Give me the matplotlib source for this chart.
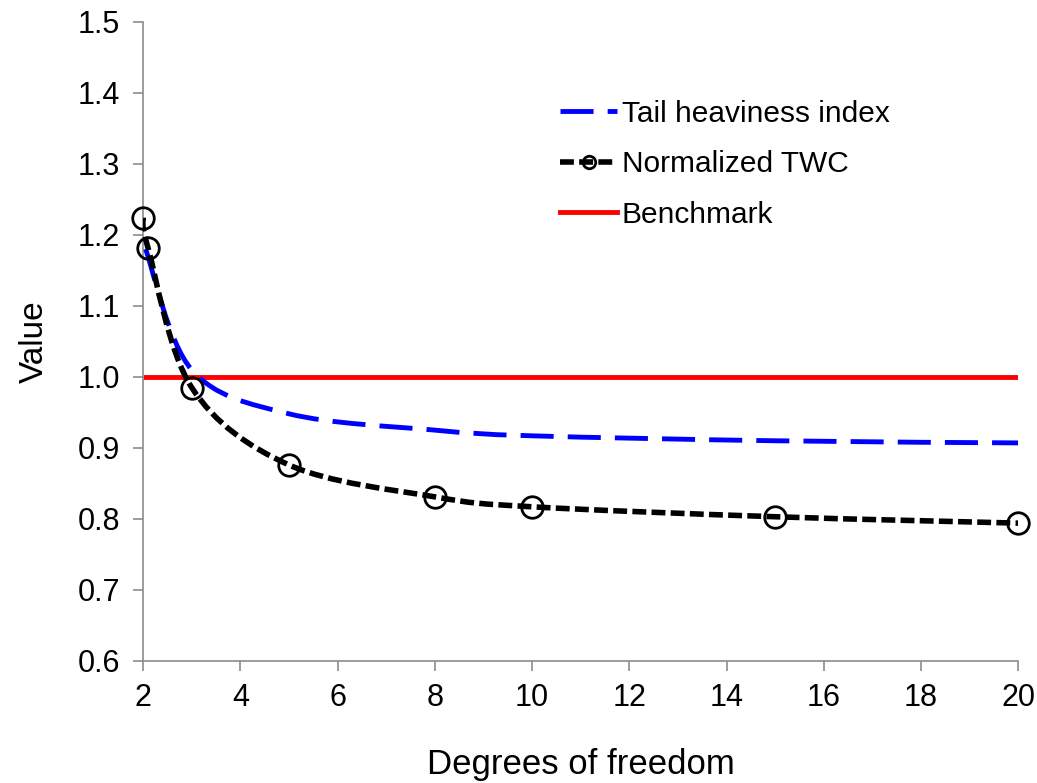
import matplotlib
matplotlib.use("Agg")
import matplotlib.pyplot as plt
from matplotlib.path import Path
from matplotlib.patches import PathPatch
from matplotlib.lines import Line2D
import numpy as np

plt.rcParams['font.family'] = ['Liberation Sans', 'DejaVu Sans']

# Data
twc_x = [2, 2.1, 3, 5, 8, 10, 15, 20]
twc_y = [1.224, 1.182, 0.985, 0.876, 0.831, 0.817, 0.803, 0.794]
thi_x = [2.05, 3, 5, 8, 10, 15, 20]
thi_y = [1.18, 1.01, 0.948, 0.925, 0.917, 0.910, 0.907]
bench_x = [2, 20]
bench_y = [1.0, 1.0]
x_ticks = [2, 4, 6, 8, 10, 12, 14, 16, 18, 20]
y_ticks = [0.6, 0.7, 0.8, 0.9, 1.0, 1.1, 1.2, 1.3, 1.4, 1.5]


def smooth_path(xs, ys):
    pts = np.column_stack([xs, ys]).astype(float)
    n = len(pts)
    verts = [pts[0]]
    codes = [Path.MOVETO]
    for i in range(n - 1):
        p0 = pts[i - 1] if i > 0 else pts[i]
        p1 = pts[i]
        p2 = pts[i + 1]
        p3 = pts[i + 2] if i + 2 < n else pts[i + 1]
        c1 = p1 + (p2 - p0) / 6.0
        c2 = p2 - (p3 - p1) / 6.0
        verts += [c1, c2, p2]
        codes += [Path.CURVE4] * 3
    return Path(verts, codes)


fig = plt.figure(figsize=(10.37, 7.83), dpi=100)
ax = fig.add_axes([0.138, 0.156, 0.844, 0.816])

gray = '#8c8c8c'
blue_lw = 3.5
black_lw = 4.0
blue_ls = (0, (6.8, 2.9))
black_ls = (0, (2.5, 0.95))

# Tail heaviness index (smoothed)
ax.add_patch(PathPatch(smooth_path(thi_x, thi_y), fill=False, edgecolor='#0000ff',
                       lw=blue_lw, linestyle=blue_ls, capstyle='butt', zorder=3))
# Benchmark
ax.plot(bench_x, bench_y, color='#ff0000', lw=3.5, zorder=2, solid_capstyle='butt')
# Normalized TWC (smoothed)
ax.add_patch(PathPatch(smooth_path(twc_x, twc_y), fill=False, edgecolor='black',
                       lw=black_lw, linestyle=black_ls, capstyle='butt', zorder=4))
ax.plot(twc_x, twc_y, linestyle='none', marker='o', markersize=15.5,
        markerfacecolor='none', markeredgecolor='black', markeredgewidth=2,
        zorder=5, clip_on=False)

ax.set_xlim(2, 20)
ax.set_ylim(0.6, 1.5)
ax.set_xticks(x_ticks)
ax.set_yticks(y_ticks)
ax.set_yticklabels([f"{v:.1f}" for v in y_ticks])
ax.tick_params(axis='both', direction='out', length=7, width=1.2, color=gray,
               labelsize=22)
ax.tick_params(axis='x', pad=9)
ax.tick_params(axis='y', pad=9.5)
for s in ['top', 'right']:
    ax.spines[s].set_visible(False)
for s in ['left', 'bottom']:
    ax.spines[s].set_color(gray)
    ax.spines[s].set_linewidth(1.2)

ax.set_xlabel('Degrees of freedom', fontsize=25, labelpad=25)
ax.set_ylabel('Value', fontsize=24, labelpad=20)

handles = [
    Line2D([], [], color='#0000ff', lw=blue_lw, linestyle=blue_ls, dash_capstyle='butt'),
    Line2D([], [], color='black', lw=black_lw, linestyle=black_ls, dash_capstyle='butt',
           marker='o', markersize=9, markerfacecolor='none',
           markeredgecolor='black', markeredgewidth=2),
    Line2D([], [], color='#ff0000', lw=3.5),
]
ax.legend(handles, ['Tail heaviness index', 'Normalized TWC', 'Benchmark'],
          loc='upper left', bbox_to_anchor=(0.446, 0.92), frameon=False,
          fontsize=21.5, handlelength=1.9, handletextpad=0.15, labelspacing=0.75)

fig.savefig('out.png', dpi=100)
